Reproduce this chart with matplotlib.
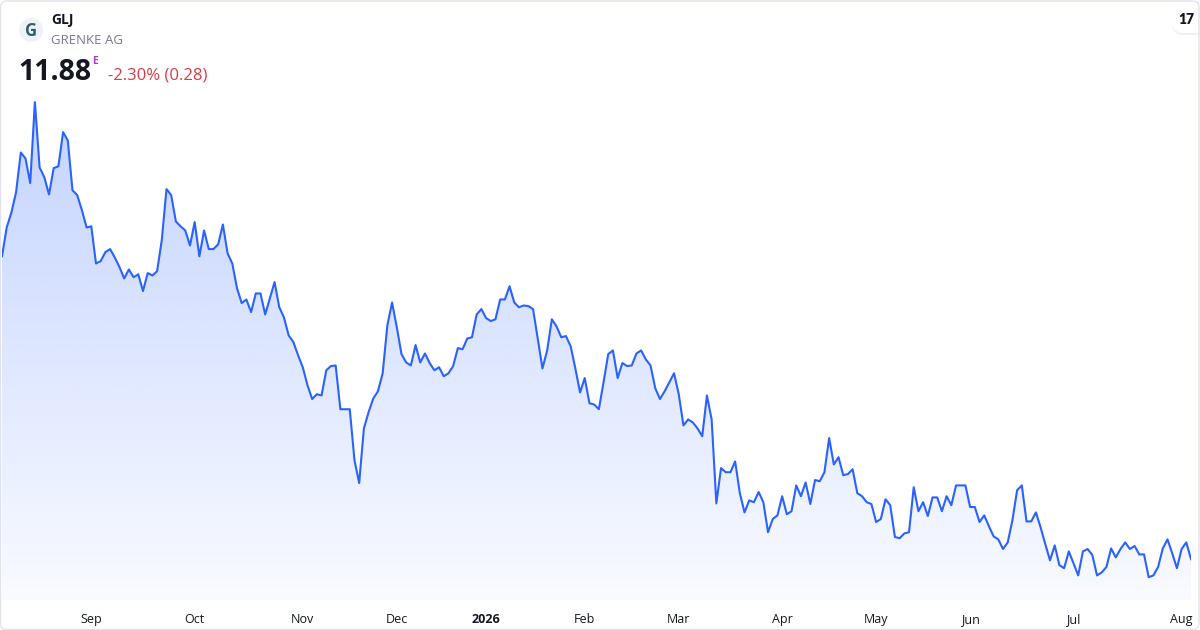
import numpy as np
import pandas as pd
import matplotlib
matplotlib.use("Agg")
import matplotlib.pyplot as plt
from matplotlib.patches import Circle, FancyBboxPatch
from matplotlib.transforms import IdentityTransform

plt.rcParams["font.family"] = ["Open Sans", "DejaVu Sans"]

# daily closes, GLJ (GRENKE AG)
close = [
    16.93, 17.41, 17.66, 18.00, 18.66, 18.56, 18.15, 19.50, 18.41, 18.25,
    17.96, 18.40, 18.43, 19.00, 18.86, 18.03, 17.95, 17.70, 17.41, 17.43,
    16.81, 16.85, 17.00, 17.05, 16.91, 16.75, 16.56, 16.71, 16.58, 16.63,
    16.35, 16.65,
    16.61, 16.68, 17.20, 18.05, 17.95, 17.51, 17.43, 17.36, 17.11, 17.50,
    16.93, 17.36, 17.05, 17.05, 17.13, 17.46, 16.98, 16.81, 16.40, 16.15,
    16.21, 16.00, 16.31, 16.31, 15.96, 16.23, 16.50, 16.08, 15.91, 15.61,
    15.50, 15.28, 15.08,
    14.78, 14.55, 14.63, 14.61, 15.03, 15.10, 15.11, 14.38, 14.38, 14.38,
    13.53, 13.15, 14.06, 14.33, 14.56, 14.68, 14.98, 15.78, 16.16, 15.75,
    15.30, 15.16, 15.11, 15.45, 15.16, 15.31, 15.15, 15.03, 15.08, 14.93,
    14.98, 15.10, 15.40,
    15.38, 15.56, 15.58, 15.96, 16.05, 15.90, 15.85, 15.88, 16.21, 16.21,
    16.43, 16.16, 16.08, 16.11, 16.10, 16.05, 15.56, 15.06, 15.36, 15.88,
    15.76, 15.58, 15.60, 15.43, 15.06, 14.66, 14.90, 14.48, 14.46, 14.38,
    14.83, 15.30, 15.36,
    14.90, 15.15, 15.10, 15.11, 15.31, 15.36, 15.21, 15.11, 14.73, 14.55,
    14.68, 14.83, 14.98, 14.63, 14.11, 14.21, 14.16, 14.06, 13.93, 14.61,
    14.21, 12.81, 13.40, 13.33, 13.33, 13.51, 12.98, 12.66, 12.86, 12.83,
    13.00, 12.83, 12.33, 12.55, 12.61, 12.93, 12.63, 12.68, 13.11, 12.93,
    13.16, 12.80, 13.20, 13.18, 13.33, 13.90, 13.46, 13.58, 13.28, 13.30,
    13.38, 12.98, 12.93, 12.83, 12.80, 12.50, 12.55, 12.88, 12.78, 12.25,
    12.23,
    12.31, 12.33, 13.08, 12.68, 12.83, 12.60, 12.91, 12.91, 12.68, 12.93,
    12.78, 13.11, 13.11, 13.11, 12.75, 12.75, 12.50, 12.61, 12.43, 12.26,
    12.21, 12.05, 12.16, 12.53, 13.03, 13.11, 12.51, 12.51, 12.66, 12.41,
    12.13, 11.86, 12.11, 11.78, 11.73, 12.01, 11.81, 11.61, 12.01, 12.05,
    11.95, 11.61, 11.66, 11.75, 12.06, 11.91, 12.05, 12.16, 12.05, 12.10,
    11.96, 11.96, 11.58, 11.61, 11.75, 12.06, 12.21, 11.98, 11.73, 12.05,
    12.16, 11.88,
]
holidays = ["2025-12-24", "2025-12-25", "2025-12-26", "2025-12-31",
            "2026-01-01", "2026-04-03", "2026-04-06", "2026-05-01"]
dates = pd.bdate_range("2025-08-05", "2026-08-05", freq="C", holidays=holidays)

ticker = "GLJ"
name = "GRENKE AG"
last = "11.88"
change = "-2.30% (0.28)"

close = np.array(close)
dates = dates[:len(close)]
x = np.arange(len(close))

W, H = 1200, 630
fig = plt.figure(figsize=(12, 6.3), dpi=100)
fig.patch.set_facecolor("white")

# chart area in pixels: left 2, right 1191, top 95, bottom 600
ax = fig.add_axes([2 / W, 30 / H, 1189 / W, 505 / H])
ax.set_facecolor("none")
rng = close.max() - close.min()
lo = close.min() - 0.048 * rng
hi = close.max() + 0.015 * rng
ax.set_xlim(0, len(close) - 1)
ax.set_ylim(lo, hi)

line_col = "#2962ff"
# gradient area under the line
poly = ax.fill_between(x, close, lo, color="none", lw=0)
grad = np.zeros((256, 1, 4))
grad[..., 0] = 41 / 255
grad[..., 1] = 98 / 255
grad[..., 2] = 1.0
grad[:, 0, 3] = np.linspace(0.28, 0.03, 256)
im = ax.imshow(grad, extent=[0, len(close) - 1, lo, close.max()],
               aspect="auto", origin="upper", zorder=1)
im.set_clip_path(poly.get_paths()[0], transform=ax.transData)
ax.plot(x, close, color=line_col, lw=1.5, zorder=3, solid_joinstyle="round")

# month ticks
month_start = [i for i in range(1, len(dates)) if dates[i].month != dates[i - 1].month]
labels = [str(dates[i].year) if dates[i].month == 1 else dates[i].strftime("%b")
          for i in month_start]
ax.set_xticks(month_start)
ax.set_xticklabels(labels)
for t, i in zip(ax.get_xticklabels(), month_start):
    if dates[i].month == 1:
        t.set_fontweight("bold")
ax.tick_params(axis="x", length=0, pad=9.5, labelsize=9, labelcolor="#131722")
ax.set_yticks([])
for s in ax.spines.values():
    s.set_visible(False)


def px(xp, yp):
    return xp / W, 1 - yp / H


# header
logo = Circle((31, H - 30), 12, transform=IdentityTransform(),
              facecolor="#eef1f6", edgecolor="none")
fig.patches.append(logo)
fig.text(*px(31, 31), "G", fontsize=12, fontweight="bold", color="#2f5d70",
         ha="center", va="center")
fig.text(*px(51, 20), ticker, fontsize=10, fontweight="bold", color="#131722",
         va="center")
fig.text(*px(51, 41), name, fontsize=9.5, color="#787b86", va="center")
fig.text(*px(18, 72.5), last, fontsize=20.5, fontweight="bold", color="#131722",
         va="center")
fig.text(*px(92.5, 61), "E", fontsize=7.5, fontweight="bold", color="#a842c0",
         va="center")
fig.text(*px(108, 75), change, fontsize=12, color="#e03a45", va="center")

# tradingview badge top right, with a faint shadow
for off, col in [(2, "#eef0f4"), (0, "white")]:
    badge = FancyBboxPatch((1172, H - 33 - off), 50, 24,
                           boxstyle="round,pad=0,rounding_size=12",
                           transform=IdentityTransform(), facecolor=col,
                           edgecolor="none")
    fig.patches.append(badge)
fig.text(*px(1186, 20), "17", fontsize=10, fontweight="heavy", color="#131722",
         ha="center", va="center", family=["Lato", "DejaVu Sans"])

# outer border
frame = FancyBboxPatch((0.5, 0.5), W - 1.5, H - 1.5,
                       boxstyle="round,pad=0,rounding_size=6",
                       transform=IdentityTransform(), facecolor="none",
                       edgecolor="#e0e3eb", lw=1)
fig.patches.append(frame)

fig.savefig("out.png", dpi=100, facecolor="white")
